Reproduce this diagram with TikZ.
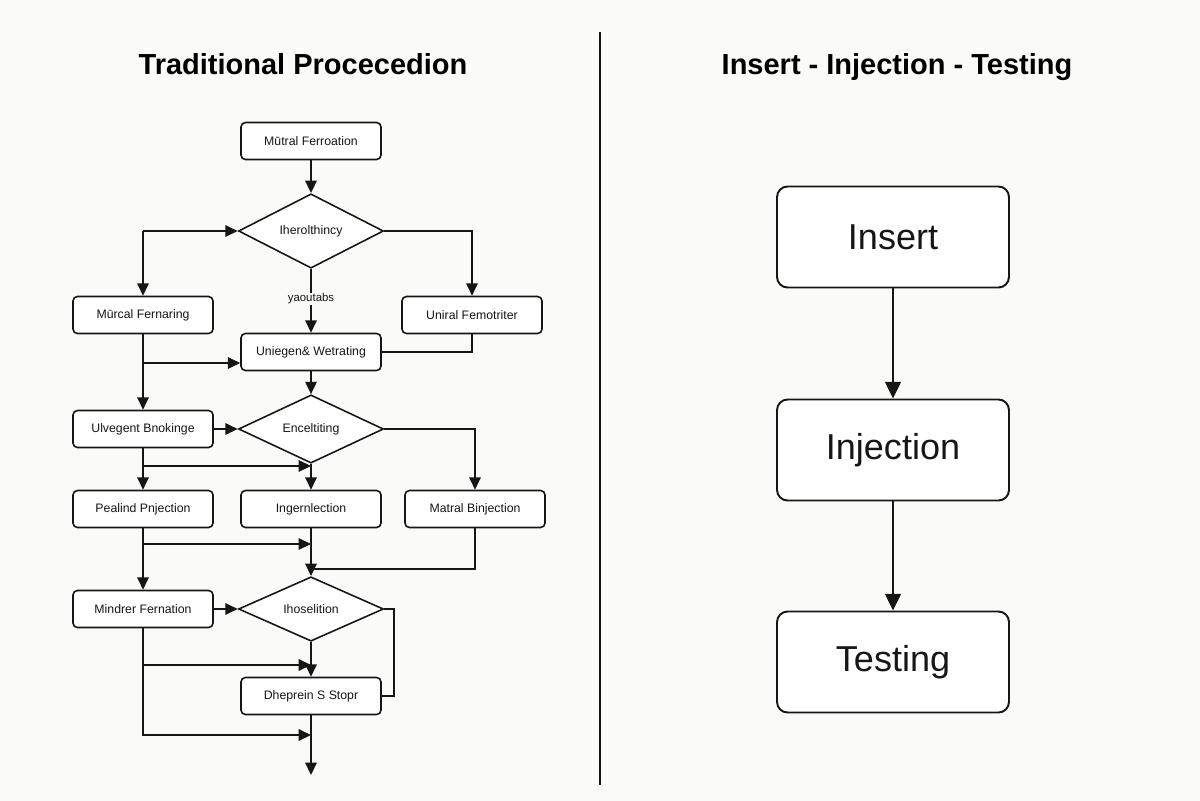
\documentclass[tikz,border=0pt]{standalone}
\usepackage{fontspec}
\setmainfont{Liberation Sans}
\usetikzlibrary{arrows.meta,positioning,shapes.geometric}
\definecolor{InkBlack}{RGB}{22,22,22}
\definecolor{PaperWhite}{RGB}{250,250,248}

\begin{document}
\begin{tikzpicture}[
      x=0.02cm,y=-0.02cm,
      stepBox/.style={draw=InkBlack,fill=white,rounded corners=2.5pt,
                      minimum width=2.8cm,minimum height=0.74cm,
                      line width=0.9pt,text=InkBlack,
                      font=\fontsize{7}{8}\selectfont},
      decBox/.style={diamond,draw=InkBlack,fill=white,inner sep=0pt,
                     minimum width=2.9cm,minimum height=1.28cm,
                     line width=0.9pt,text=InkBlack,
                     font=\fontsize{7}{8}\selectfont},
      bigBox/.style={draw=InkBlack,fill=white,rounded corners=6pt,
                     minimum width=4.64cm,minimum height=2.02cm,
                     line width=1.1pt,text=InkBlack,
                     font=\fontsize{20.5}{24}\selectfont},
      titleText/.style={font=\fontsize{16.5}{20}\selectfont\bfseries,text=black,
                        text height=12pt,text depth=3.5pt},
      noteText/.style={font=\fontsize{6.5}{7}\selectfont,fill=PaperWhite,
                       inner sep=0.6pt,text=InkBlack},
      arFlow/.style={-{Triangle[length=7pt,width=6.5pt]},line width=0.9pt,InkBlack},
      lnFlow/.style={line width=0.9pt,InkBlack},
      arBig/.style={-{Triangle[length=9.5pt,width=9pt]},line width=1.1pt,InkBlack}
    ]

    % Page background and frame
    \fill[PaperWhite] (0,0) rectangle (1200,801);
    \useasboundingbox (0,0) rectangle (1200,801);

    % Titles and divider
    \node(tl)[titleText] at (303,67) {Traditional Procecedion};
    \node(tr)[titleText] at (897,67) {Insert - Injection - Testing};
    \draw[InkBlack,line width=0.9pt] (600,32) -- (600,785);

    % Left: traditional flow, boxes
    \node(b1)[stepBox] at (311,141) {Mūtral Ferroation};
    \node(d1)[decBox]  at (311,231) {Iherolthincy};
    \node(b2)[stepBox] at (143,315) {Mūrcal Fernaring};
    \node(b3)[stepBox] at (472,315) {Uniral Femotriter};
    \node(b4)[stepBox] at (311,352) {Uniegen\& Wetrating};
    \node(b5)[stepBox] at (143,429) {Ulvegent Bnokinge};
    \node(d2)[decBox]  at (311,429) {Enceltiting};
    \node(b6)[stepBox] at (143,509) {Pealind Pnjection};
    \node(b7)[stepBox] at (311,509) {Ingernlection};
    \node(b8)[stepBox] at (475,509) {Matral Binjection};
    \node(b9)[stepBox] at (143,609) {Mindrer Fernation};
    \node(d3)[decBox]  at (311,609) {Ihoselition};
    \node(b10)[stepBox] at (311,696) {Dheprein S Stopr};

    % Left: junction points
    \coordinate (j1) at (b2.north |- d1.west);
    \coordinate (j2) at (143,363);
    \coordinate (j3) at (143,466);
    \coordinate (j4) at (143,544);
    \coordinate (j5) at (311,569);
    \coordinate (j6) at (143,665);
    \coordinate (j7) at (311,735);
    \coordinate (e1) at (311,775);

    % Left: connectors
    \draw[arFlow] (b1) -- (d1);
    \draw[arFlow] (j1) -- (d1.west);
    \draw[arFlow] (j1) -- (b2.north);
    \draw[arFlow] (d1.east) -| (b3.north);
    \draw[arFlow] (d1.south) -- (b4.north)
      node(yl)[noteText,pos=0.47] {yaoutabs};
    \draw[arFlow] (b2) -- (b5);
    \draw[arFlow] (j2) -- (j2 -| b4.west);
    \draw[lnFlow] (b3.south) |- (b4.east);
    \draw[arFlow] (b4) -- (d2);
    \draw[arFlow] (b5) -- (d2);
    \draw[arFlow] (d2.east) -| (b8.north);
    \draw[arFlow] (d2) -- (b7);
    \draw[arFlow] (b5) -- (b6);
    \draw[arFlow] (j3) -- (j3 -| b7);
    \draw[arFlow] (b6) -- (b9);
    \draw[arFlow] (j4) -- (j4 -| b7);
    \draw[arFlow] (b7) -- (d3);
    \draw[lnFlow] (b8.south) |- (j5);
    \draw[arFlow] (b9) -- (d3);
    \draw[lnFlow] (d3.east) -- ++(10,0) |- (b10.east);
    \draw[arFlow] (d3) -- (b10);
    \draw[arFlow] (j6) -- (j6 -| b10);
    \draw[arFlow] (b9.south) |- (j7);
    \draw[arFlow] (b10) -- (e1);

    % Right: three-step flow
    \node(r1)[bigBox] at (893,237) {Insert};
    \node(r2)[bigBox] at (893,450) {Injection};
    \node(r3)[bigBox] at (893,662) {Testing};
    \draw[arBig] (r1) -- (r2);
    \draw[arBig] (r2) -- (r3);
  \end{tikzpicture}
\end{document}
